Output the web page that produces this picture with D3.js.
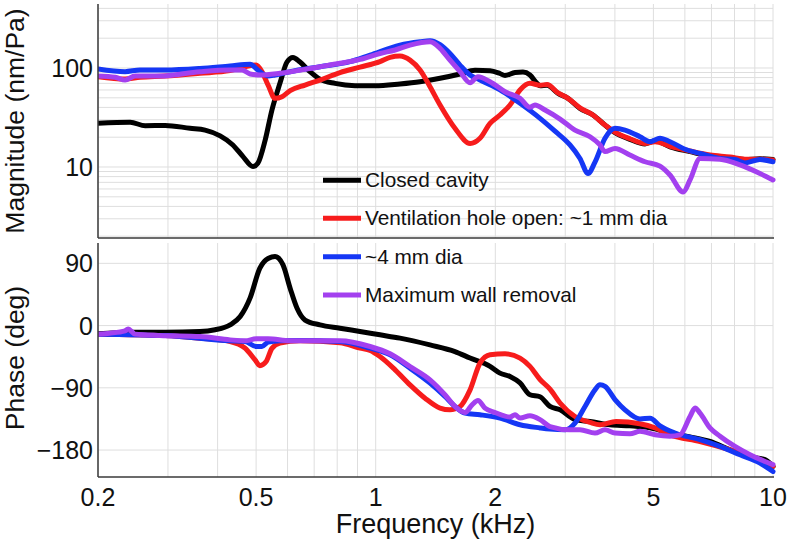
<!DOCTYPE html>
<html><head><meta charset="utf-8">
<script src="https://cdn.jsdelivr.net/npm/d3@7"></script>
<style>
html,body{margin:0;padding:0;background:#fff;}
svg{display:block;font-family:"Liberation Sans",Arial,sans-serif;}
</style></head>
<body><svg id="c" width="789" height="539"></svg>
<script>
// ---------- data ----------
const seriesNames = ["Closed cavity","Ventilation hole open: ~1 mm dia","~4 mm dia","Maximum wall removal"];
const seriesColors = ["#000000","#f71c1c","#1537f5","#a340ef"];
const freqTicks = [0.2,0.5,1,2,5,10];
const freqTickLabels = ["0.2","0.5","1","2","5","10"];
const magTicks = [10,100];
const magTickLabels = ["10","100"];
const phaseTicks = [90,0,-90,-180];
const phaseTickLabels = ["90","0","\u221290","\u2212180"];

// magnitude (nm/Pa) : [frequency kHz, value]
const magClosed = [[0.2,27.6],[0.241,28.3],[0.263,26.1],[0.295,26.3],[0.341,24.6],[0.372,23.6],[0.406,20.6],[0.437,16.7],[0.463,12.8],[0.491,10.1],[0.505,10.9],[0.527,18.7],[0.548,37.6],[0.574,70],[0.598,115],[0.619,128],[0.645,115],[0.683,92],[0.724,77],[0.79,70],[0.887,66.3],[0.996,66],[1.151,69],[1.293,72.7],[1.452,78.7],[1.63,87],[1.778,95],[1.94,94],[2.055,88],[2.116,84],[2.242,90],[2.348,91],[2.445,85],[2.547,70],[2.592,66],[2.699,67],[2.877,55.5],[3.048,49.4],[3.267,39],[3.523,33.5],[3.777,26.5],[4.002,22.2],[4.365,19],[4.763,17.1],[5.047,18.4],[5.505,16],[6.183,14.3],[6.941,12.9],[7.793,12.4],[8.501,11.9],[9.274,12.1],[10,11.9]];
const magVent1 = [[0.2,81.7],[0.234,77.4],[0.255,80.5],[0.295,83],[0.361,88.4],[0.43,94],[0.469,103],[0.5,107],[0.517,92],[0.536,67],[0.558,49.4],[0.581,51.3],[0.609,59],[0.664,67.3],[0.724,75.6],[0.813,90],[0.913,102],[1.025,116],[1.087,128],[1.151,132],[1.22,120],[1.293,95.5],[1.37,64.7],[1.452,42.3],[1.583,24.6],[1.728,17.3],[1.83,19.5],[1.94,27.6],[2.055,33.5],[2.178,42.3],[2.308,60],[2.445,70],[2.592,67],[2.699,68],[2.877,56],[3.048,49.4],[3.267,39.5],[3.523,33.5],[3.777,26.5],[4.002,22.5],[4.365,19.3],[4.763,17.3],[5.047,18],[5.505,16.2],[6.183,14.5],[6.941,13.2],[7.793,12.6],[8.501,12.0],[9.274,12.0],[10,11.8]];
const magVent4 = [[0.2,97.7],[0.234,91.8],[0.255,95.5],[0.295,95.5],[0.361,99],[0.43,105],[0.483,109],[0.505,95.5],[0.536,83],[0.558,85],[0.609,91.8],[0.724,103],[0.862,115.8],[0.968,135],[1.151,170],[1.293,184],[1.37,189],[1.452,172],[1.538,140],[1.63,107],[1.728,85],[1.83,75.6],[2.055,60],[2.308,44],[2.592,31],[2.827,23],[3.083,16.7],[3.267,12.2],[3.423,8.6],[3.564,11.2],[3.777,19.5],[4.002,24.6],[4.241,23.6],[4.626,20.2],[4.903,18.0],[5.195,19.5],[5.505,18.0],[6.006,15.1],[6.551,13.7],[7.356,12.2],[8.022,11.9],[8.501,11.0],[9.274,11.9],[10,11.3]];
const magMaxWall = [[0.2,83],[0.221,80.5],[0.234,75.6],[0.248,83],[0.286,83],[0.361,91.8],[0.43,95.5],[0.461,95.5],[0.483,87],[0.511,85],[0.574,88.4],[0.724,103],[0.813,111.5],[0.913,122],[1.025,140],[1.119,152],[1.22,170],[1.37,184],[1.452,158],[1.538,120],[1.63,92],[1.728,71],[1.809,81.7],[1.94,72.7],[2.116,57.6],[2.308,49.4],[2.445,40.1],[2.517,42.3],[2.668,37.6],[2.911,30.5],[3.174,23.6],[3.463,20.2],[3.669,16.7],[3.777,14.3],[4.002,15.4],[4.365,13.2],[4.763,11.3],[5.195,10.2],[5.505,8.3],[5.937,5.6],[6.183,7.4],[6.551,12.2],[7.356,12.0],[8.258,10.5],[9.274,8.6],[10,7.4]];

// phase (deg) : [frequency kHz, value]
const phClosed = [[0.2,-12],[0.241,-9.5],[0.295,-9.5],[0.361,-8.6],[0.394,-6],[0.43,1],[0.456,13],[0.483,40],[0.511,83],[0.536,97],[0.558,99.7],[0.584,88],[0.609,54],[0.634,25],[0.664,8],[0.724,1],[0.813,-3.8],[0.913,-8.6],[1.025,-13.4],[1.151,-18.2],[1.37,-28],[1.583,-37.6],[1.728,-47],[1.94,-59],[2.055,-68.8],[2.178,-73.7],[2.308,-83],[2.445,-100],[2.592,-103],[2.746,-117],[2.911,-121.8],[3.174,-136],[3.463,-138.7],[3.888,-143.5],[4.365,-145],[4.903,-148],[5.505,-155.4],[6.183,-161],[6.941,-167.6],[7.793,-179.6],[8.752,-190],[9.547,-194],[10,-203.7]];
const phVent1 = [[0.2,-12.4],[0.295,-14.4],[0.361,-18.2],[0.43,-23],[0.469,-32.7],[0.497,-49.6],[0.511,-58],[0.53,-52],[0.548,-33],[0.574,-25.4],[0.645,-22],[0.813,-25],[0.913,-32.7],[0.968,-36],[1.025,-44.8],[1.119,-64],[1.22,-85.7],[1.331,-105],[1.452,-119.3],[1.538,-121.8],[1.63,-117],[1.728,-93],[1.83,-54.3],[1.94,-42.3],[2.116,-40.9],[2.308,-47],[2.445,-59],[2.592,-78],[2.746,-92],[2.911,-112],[3.174,-131.5],[3.463,-140],[3.669,-143.5],[4.026,-138.7],[4.626,-142],[5.047,-148],[5.505,-158],[6.551,-167.6],[7.793,-179.6],[9.274,-194],[10,-203.7]];
const phVent4 = [[0.2,-12.4],[0.295,-14.4],[0.43,-22],[0.469,-23],[0.5,-30.3],[0.517,-30.3],[0.536,-24],[0.574,-22],[0.645,-21.6],[0.813,-23],[0.968,-32.7],[1.087,-42.3],[1.22,-61.6],[1.37,-83.2],[1.494,-102.6],[1.583,-117],[1.678,-126.6],[1.83,-129],[2.055,-133.8],[2.308,-143.5],[2.592,-148],[2.746,-149.7],[3.0,-150.7],[3.174,-141],[3.364,-117],[3.564,-92.9],[3.669,-85.7],[3.777,-88],[4.002,-107],[4.241,-121.8],[4.626,-135],[4.903,-134],[5.195,-145],[5.667,-155.4],[6.551,-165],[7.356,-174.8],[8.258,-186.8],[9.274,-198.8],[10,-211]];
const phMaxWall = [[0.2,-12.4],[0.214,-11],[0.234,-7.7],[0.238,-4.8],[0.248,-12.4],[0.286,-14.4],[0.361,-15.9],[0.43,-20.7],[0.469,-22],[0.5,-19.2],[0.536,-19.2],[0.609,-22],[0.813,-22],[0.968,-30.3],[1.087,-40.9],[1.22,-59.2],[1.37,-78.4],[1.494,-100],[1.583,-117],[1.678,-125.7],[1.748,-114.6],[1.809,-108.3],[1.884,-119.3],[1.997,-125.7],[2.178,-132.3],[2.242,-129],[2.308,-133.8],[2.445,-130.5],[2.592,-136],[2.746,-146],[3.083,-150.7],[3.267,-150.7],[3.564,-155.4],[3.777,-150.7],[4.002,-155.4],[4.365,-156.5],[4.626,-153],[5.047,-158],[5.505,-160],[5.834,-158],[6.183,-131.5],[6.364,-119.3],[6.551,-126.6],[6.941,-148],[7.356,-160],[8.022,-174.8],[8.752,-186.8],[9.547,-196.5],[10,-201]];

const magSeries = [magClosed, magVent1, magVent4, magMaxWall];
const phSeries = [phClosed, phVent1, phVent4, phMaxWall];

// ---------- layout ----------
const svg = d3.select("#c");
const L = 98, R = 773;
const topY0 = 4, topY1 = 238, botY0 = 243, botY1 = 477;

const x = d3.scaleLog().domain([0.2, 10]).range([L, R]);
const yMag = d3.scaleLog().domain([1.918, 443]).range([topY1, topY0]);
const yPh = d3.scaleLinear().domain([-219, 119.4]).range([botY1, botY0]);

const gridColor = "#dedede";
const defs = svg.append("defs");
defs.append("clipPath").attr("id","clipTop").append("rect").attr("x",L).attr("y",topY0).attr("width",R-L+3).attr("height",topY1-topY0);
defs.append("clipPath").attr("id","clipBot").append("rect").attr("x",L).attr("y",botY0).attr("width",R-L+3).attr("height",botY1-botY0);

// vertical grid (minor log ticks)
const xGridVals = x.ticks(20).filter(v => v >= 0.2 && v <= 10);
[[topY0, topY1],[botY0, botY1]].forEach(([a,b]) => {
  svg.append("g").selectAll("line").data(xGridVals).join("line")
    .attr("x1", d => x(d)).attr("x2", d => x(d)).attr("y1", a).attr("y2", b)
    .attr("stroke", gridColor).attr("stroke-width", 1);
});
// horizontal grid, magnitude
const magGridVals = yMag.ticks(30).filter(v => v > 1.918 && v < 443);
svg.append("g").selectAll("line").data(magGridVals).join("line")
  .attr("x1", L).attr("x2", R).attr("y1", d => yMag(d)).attr("y2", d => yMag(d))
  .attr("stroke", gridColor).attr("stroke-width", 1);
// horizontal grid, phase
svg.append("g").selectAll("line").data(phaseTicks).join("line")
  .attr("x1", L).attr("x2", R).attr("y1", d => yPh(d)).attr("y2", d => yPh(d))
  .attr("stroke", gridColor).attr("stroke-width", 1);

// curves
const lineMag = d3.line().x(d => x(d[0])).y(d => yMag(d[1])).curve(d3.curveMonotoneX);
const linePh = d3.line().x(d => x(d[0])).y(d => yPh(d[1])).curve(d3.curveMonotoneX);
const gTop = svg.append("g").attr("clip-path","url(#clipTop)");
magSeries.forEach((s,i) => gTop.append("path").attr("d", lineMag(s)).attr("fill","none")
  .attr("stroke", seriesColors[i]).attr("stroke-width", 5).attr("stroke-linejoin","round").attr("stroke-linecap","round"));
const gBot = svg.append("g").attr("clip-path","url(#clipBot)");
phSeries.forEach((s,i) => gBot.append("path").attr("d", linePh(s)).attr("fill","none")
  .attr("stroke", seriesColors[i]).attr("stroke-width", 5).attr("stroke-linejoin","round").attr("stroke-linecap","round"));

// axes lines
const axisColor = "#3a3a3a";
svg.append("line").attr("x1",L).attr("x2",L).attr("y1",topY0).attr("y2",topY1).attr("stroke",axisColor).attr("stroke-width",1.5);
svg.append("line").attr("x1",L).attr("x2",R+1).attr("y1",topY1).attr("y2",topY1).attr("stroke",axisColor).attr("stroke-width",1.5);
svg.append("line").attr("x1",L).attr("x2",L).attr("y1",botY0).attr("y2",botY1).attr("stroke",axisColor).attr("stroke-width",1.5);
svg.append("line").attr("x1",L).attr("x2",R+1).attr("y1",botY1).attr("y2",botY1).attr("stroke",axisColor).attr("stroke-width",1.5);

// tick labels
const tickFont = 25;
svg.append("g").selectAll("text").data(magTicks).join("text")
  .attr("x", L-5).attr("y", d => yMag(d)).attr("dy","0.36em").attr("text-anchor","end")
  .attr("font-size", tickFont).attr("fill","#111").text((d,i) => magTickLabels[i]);
svg.append("g").selectAll("text").data(phaseTicks).join("text")
  .attr("x", L-5).attr("y", d => yPh(d)).attr("dy","0.36em").attr("text-anchor","end")
  .attr("font-size", tickFont).attr("fill","#111").text((d,i) => phaseTickLabels[i]);
svg.append("g").selectAll("text").data(freqTicks).join("text")
  .attr("x", d => x(d)).attr("y", 506).attr("text-anchor","middle")
  .attr("font-size", tickFont).attr("fill","#111").text((d,i) => freqTickLabels[i]);

// axis titles
svg.append("text").attr("x", (L+R)/2).attr("y", 533).attr("text-anchor","middle")
  .attr("font-size", 27).attr("fill","#111").text("Frequency (kHz)");
svg.append("text").attr("transform", `translate(23.5,${(topY0+topY1)/2}) rotate(-90)`).attr("text-anchor","middle")
  .attr("font-size", 26.5).attr("fill","#111").text("Magnitude (nm/Pa)");
svg.append("text").attr("transform", `translate(23.5,${(botY0+botY1)/2 - 2}) rotate(-90)`).attr("text-anchor","middle")
  .attr("font-size", 26.5).attr("fill","#111").text("Phase (deg)");

// legend
const legY = [180.3, 218.3, 256.7, 295];
const leg = svg.append("g");
seriesNames.forEach((n,i) => {
  leg.append("line").attr("x1",323).attr("x2",361).attr("y1",legY[i]).attr("y2",legY[i])
    .attr("stroke", seriesColors[i]).attr("stroke-width", 5);
  leg.append("text").attr("x",365).attr("y",legY[i]+7).attr("font-size",20.8).attr("fill","#111").text(n);
});
</script></body></html>
